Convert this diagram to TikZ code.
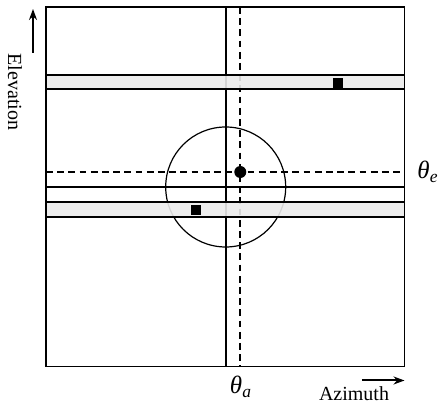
\documentclass[tikz,border=0pt]{standalone}
\usepackage{fontspec}
\setmainfont{Liberation Serif}
\usetikzlibrary{arrows.meta}
\begin{document}
\begin{tikzpicture}[x=0.5pt,y=-0.5pt,
  thin line/.style={line width=0.7pt},
  dash line/.style={line width=0.8pt,dash pattern=on 3.4pt off 2.2pt},
  band/.style={line width=0.9pt,fill=gray!16,fill opacity=0.9},
  marker/.style={fill=black,draw=none},
  lbl/.style={inner sep=0pt,font=\fontsize{10}{12}\selectfont},
  glbl/.style={inner sep=0pt,font=\fontsize{12.5}{14}\selectfont},
  axarrow/.style={line width=1pt,-{Stealth[length=5.5pt,width=4pt]}}]
\useasboundingbox (0,0) rectangle (441,405);
% outer frame
\draw[thin line] (46,7) rectangle (404.5,366.5);
% crosshair lines
\draw[line width=0.8pt] (46,187) -- (404.5,187);
\draw[line width=0.9pt] (225.7,7) -- (225.7,366.5);
\draw[dash line] (46,172) -- (404.5,172);
\draw[dash line] (240.3,7) -- (240.3,366.5);
% circle
\draw[line width=0.6pt] (225.7,187) circle[radius=60];
% bands
\draw[band] (46,74.7) rectangle (404.5,89.3);
\draw[band] (46,202.3) rectangle (404.5,216.7);
% markers
\fill[marker] (332.7,77.7) rectangle (342.7,87.7);
\fill[marker] (190.7,204.7) rectangle (200.7,214.7);
\fill[marker] (240.3,172) circle[radius=6];
% labels
\node[glbl] (te) at (428,172) {\itshape θ\textsubscript{e}};
\node[glbl] (ta) at (241,387) {\itshape θ\textsubscript{a}};
\node[lbl,anchor=base] (az) at (354,401) {Azimuth};
\node[lbl,rotate=-90] (el) at (15,92) {Elevation};
% axis arrows
\coordinate (azs) at (362,380.5);
\coordinate (aze) at (404.5,380.5);
\coordinate (els) at (33,53);
\coordinate (ele) at (33,9);
\draw[axarrow] (azs) -- (aze);
\draw[axarrow] (els) -- (ele);
\end{tikzpicture}
\end{document}
